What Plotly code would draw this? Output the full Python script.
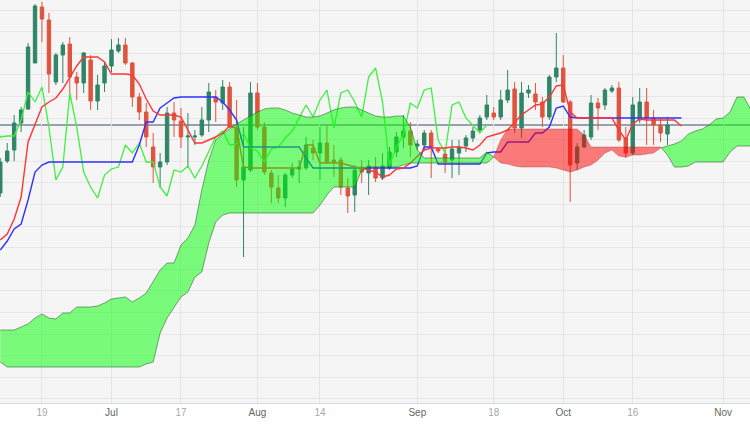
import plotly.graph_objects as go

# ---------------- data (trading-day index, 0 = 19 Jun) ----------------
candle_start = -6
opens = [207, 239, 250, 277, 291, 337,
         393, 380, 318, 345, 356, 323, 317, 340, 299, 317,
         334, 349, 355, 337, 303, 288, 253, 233, 238, 287,
         279, 263, 263, 265, 280, 303, 297, 313, 272, 220,
         230, 307, 273, 227, 212, 202, 225, 231, 232, 252,
         247, 257, 240, 240, 212, 205, 233, 227, 233, 222,
         232, 248, 263, 269, 254, 255, 267, 251, 246, 240,
         247, 254, 262, 270, 283, 287, 283, 300, 311, 272,
         307, 306, 298, 283, 323, 332, 298, 237, 253, 263,
         297, 295, 309, 312, 262, 247, 280, 298, 282, 275, 266]
highs = [242, 257, 285, 293, 357, 396,
         398, 387, 347, 358, 363, 328, 348, 345, 325, 337,
         361, 362, 362, 338, 307, 297, 267, 247, 293, 298,
         292, 287, 270, 293, 317, 310, 320, 318, 300, 273,
         318, 317, 278, 230, 225, 227, 237, 240, 263, 260,
         273, 275, 255, 243, 222, 235, 240, 240, 243, 247,
         253, 268, 285, 278, 260, 270, 270, 253, 252, 260,
         260, 265, 273, 285, 305, 293, 310, 330, 318, 318,
         315, 317, 303, 325, 367, 345, 300, 257, 270, 305,
         302, 312, 315, 318, 273, 303, 312, 312, 290, 282, 283]
lows = [203, 237, 239, 268, 290, 337,
        358, 307, 315, 317, 300, 300, 307, 290, 290, 308,
        328, 347, 335, 293, 280, 253, 217, 212, 235, 263,
        252, 232, 255, 263, 268, 278, 290, 272, 213, 143,
        228, 270, 225, 197, 197, 193, 222, 217, 230, 240,
        220, 237, 223, 205, 187, 188, 217, 205, 218, 220,
        230, 243, 252, 243, 250, 250, 222, 247, 227, 222,
        225, 248, 258, 268, 280, 280, 280, 297, 267, 262,
        302, 290, 273, 280, 318, 297, 198, 230, 252, 260,
        270, 290, 307, 258, 242, 245, 277, 255, 255, 258, 255]
closes = [238, 249, 277, 290, 353, 394,
          381, 326, 345, 355, 323, 317, 347, 299, 315, 334,
          350, 355, 337, 303, 288, 263, 233, 238, 287, 280,
          263, 264, 264, 280, 308, 298, 313, 273, 220, 233,
          307, 273, 228, 213, 202, 225, 231, 233, 255, 247,
          257, 238, 238, 213, 204, 230, 228, 234, 222, 234,
          248, 263, 269, 255, 256, 267, 252, 249, 238, 251,
          253, 262, 269, 282, 295, 283, 300, 310, 272, 307,
          310, 298, 283, 323, 332, 298, 235, 253, 265, 297,
          292, 310, 312, 260, 247, 295, 298, 282, 275, 267, 275]

line_start = -6
tenkan = [160, 166, 181, 203, 258, 275,
          293, 298, 302, 311, 323, 334, 343, 343, 343, 338,
          326, 326, 326, 325, 316, 301, 289, 285, 285, 285,
          283, 270, 257, 257, 260, 263, 267, 274, 272, 233,
          232, 232, 232, 232, 232, 232, 232, 232, 255, 255,
          237, 237, 237, 237, 235, 233, 232, 230, 228, 223,
          225, 231, 232, 237, 244, 250, 252, 252, 252, 253,
          253, 252, 250, 255, 263, 265, 267, 270, 278, 285,
          290, 295, 296, 303, 314, 315, 288, 282, 282, 282,
          282, 282, 282, 270, 260, 276, 281, 280, 280, 280, 280, 280, 274]
kijun = [150, 159, 171, 176, 200, 228,
         235, 238, 238, 238, 238, 238, 238, 238, 238, 238,
         238, 238, 238, 238, 255, 278, 278, 292, 297, 302,
         303, 303, 303, 303, 303, 303, 298, 290, 280, 253,
         253, 253, 253, 253, 253, 253, 253, 253, 242, 232,
         232, 232, 232, 232, 232, 232, 232, 232, 232, 232,
         232, 232, 232, 232, 234, 253, 253, 236, 236, 236,
         236, 236, 236, 236, 247, 248, 248, 258, 258, 258,
         258, 267, 267, 273, 292, 294, 283, 282, 282, 282,
         282, 282, 282, 282, 282, 282, 282, 282, 282, 282, 282, 282, 282]

cloud_start = -6
span_a = [70, 70, 70, 73, 76, 82,
          86, 82, 81, 87, 87, 93, 93, 93, 94, 97,
          101, 102, 103, 98, 102, 107, 118, 130, 137, 137,
          155, 162, 175, 210, 240, 260, 266, 271, 276, 280,
          284, 288, 291, 292, 292, 290, 287, 285, 283, 283,
          284, 287, 290, 292, 293, 293, 290, 287, 284, 283,
          283, 284, 284, 273, 250, 242, 242, 242, 242, 242,
          242, 242, 242, 242, 248, 243, 237, 236, 234, 233,
          233, 233, 233, 233, 232, 230, 228, 230, 233, 235,
          240, 247, 250, 244, 243, 245, 245, 246, 247, 252,
          254, 256, 259, 266, 269, 271, 275, 281, 282, 288,
          303, 303, 290]
span_b = [38, 33, 33, 33, 33, 33,
          33, 33, 33, 33, 33, 33, 33, 33, 33, 33,
          33, 33, 33, 33, 33, 36, 38, 67, 82, 93,
          103, 108, 123, 128, 157, 178, 185, 187, 187, 187,
          187, 187, 187, 187, 187, 187, 187, 187, 187, 187,
          195, 205, 213, 213, 213, 213, 230, 233, 233, 233,
          233, 233, 235, 237, 237, 237, 237, 237, 237, 237,
          237, 237, 237, 237, 237, 243, 260, 271, 271, 271,
          271, 271, 271, 271, 271, 271, 271, 271, 265, 253,
          253, 253, 253, 253, 253, 253, 253, 253, 253, 253,
          245, 233, 233, 234, 238, 238, 238, 238, 238, 248,
          254, 254, 254]

chikou_shift = 26
tick_vals = [0, 10, 20, 31, 40, 54, 65, 75, 85, 98]
tick_labels = ["19", "Jul", "17", "Aug", "14", "Sep", "18", "Oct", "16", "Nov"]
month_labels = {"Jul", "Aug", "Sep", "Oct", "Nov"}

x_range = [-6.04, 101.87]
y_range = [-3, 400]

# ---------------- build ----------------
cx = [candle_start + k for k in range(len(closes))]
lx = [line_start + k for k in range(len(tenkan))]
kx = [line_start + k for k in range(len(kijun))]
sx = [cloud_start + k for k in range(len(span_a))]
chx = [x - chikou_shift for x in cx]

fig = go.Figure()

fig.add_trace(go.Candlestick(
    x=cx, open=opens, high=highs, low=lows, close=closes,
    increasing=dict(line=dict(color="#2f8566", width=1), fillcolor="#2f8566"),
    decreasing=dict(line=dict(color="#e0533d", width=1), fillcolor="#e0533d"),
    whiskerwidth=0, showlegend=False, hoverinfo="skip"))

fig.add_trace(go.Scatter(x=chx, y=closes, mode="lines",
                         line=dict(color="#3ff03f", width=1.3), hoverinfo="skip", showlegend=False))
fig.add_trace(go.Scatter(x=kx, y=kijun, mode="lines",
                         line=dict(color="#3030ff", width=1.4), hoverinfo="skip", showlegend=False))
fig.add_trace(go.Scatter(x=lx, y=tenkan, mode="lines",
                         line=dict(color="#ff3535", width=1.4), hoverinfo="skip", showlegend=False))


def cloud_runs(xs, a, b):
    runs = []
    cur = None
    for k in range(len(xs)):
        x, ya, yb = xs[k], a[k], b[k]
        s = ya >= yb
        if cur is None:
            cur = {"s": s, "x": [x], "a": [ya], "b": [yb]}
            continue
        if s != cur["s"]:
            x0, a0, b0 = xs[k - 1], a[k - 1], b[k - 1]
            d0, d1 = a0 - b0, ya - yb
            t = d0 / (d0 - d1) if d0 != d1 else 0
            xc = x0 + t * (x - x0)
            yc = a0 + t * (ya - a0)
            cur["x"].append(xc); cur["a"].append(yc); cur["b"].append(yc)
            runs.append(cur)
            cur = {"s": s, "x": [xc, x], "a": [yc, ya], "b": [yc, yb]}
        else:
            cur["x"].append(x); cur["a"].append(ya); cur["b"].append(yb)
    runs.append(cur)
    return runs


for r in cloud_runs(sx, span_a, span_b):
    if r["s"]:
        fillc, linec = "rgba(0,255,0,0.5)", "rgba(40,90,40,0.55)"
    else:
        fillc, linec = "rgba(255,0,0,0.5)", "rgba(150,40,40,0.35)"
    fig.add_trace(go.Scatter(
        x=r["x"] + r["x"][::-1], y=r["a"] + r["b"][::-1],
        mode="lines", fill="toself", fillcolor=fillc,
        line=dict(color=linec, width=1), hoverinfo="skip", showlegend=False))

fig.add_shape(type="line", xref="paper", x0=0, x1=1, yref="y",
              y0=closes[-1], y1=closes[-1],
              line=dict(color="#3d4b66", width=1), layer="below")

ticktext = [("<span style='color:#666666'>%s</span>" % t) if t in month_labels else t
            for t in tick_labels]

fig.update_layout(
    width=750, height=430,
    margin=dict(l=0, r=0, t=0, b=27),
    paper_bgcolor="white", plot_bgcolor="#f5f5f5",
    showlegend=False,
    font=dict(family="Liberation Sans Narrow, Liberation Sans, Arial, sans-serif", size=10, color="#a8a8a8"),
    xaxis=dict(type="linear", range=x_range, tickvals=tick_vals, ticktext=ticktext,
               showgrid=True, gridcolor="#e4e4e4", gridwidth=1, zeroline=False,
               showline=True, linecolor="#d5dbe6", linewidth=1, mirror=True,
               ticks="", rangeslider=dict(visible=False),
               tickfont=dict(size=10, color="#a8a8a8")),
    yaxis=dict(range=y_range, tick0=1.2, dtick=21.6, showticklabels=False,
               showgrid=True, gridcolor="#e6e6e6", gridwidth=1, zeroline=False,
               ticks=""),
)

fig.write_html("out.html", config={"displayModeBar": False},
               post_script="document.body.style.margin='0';document.body.style.overflow='hidden';")
